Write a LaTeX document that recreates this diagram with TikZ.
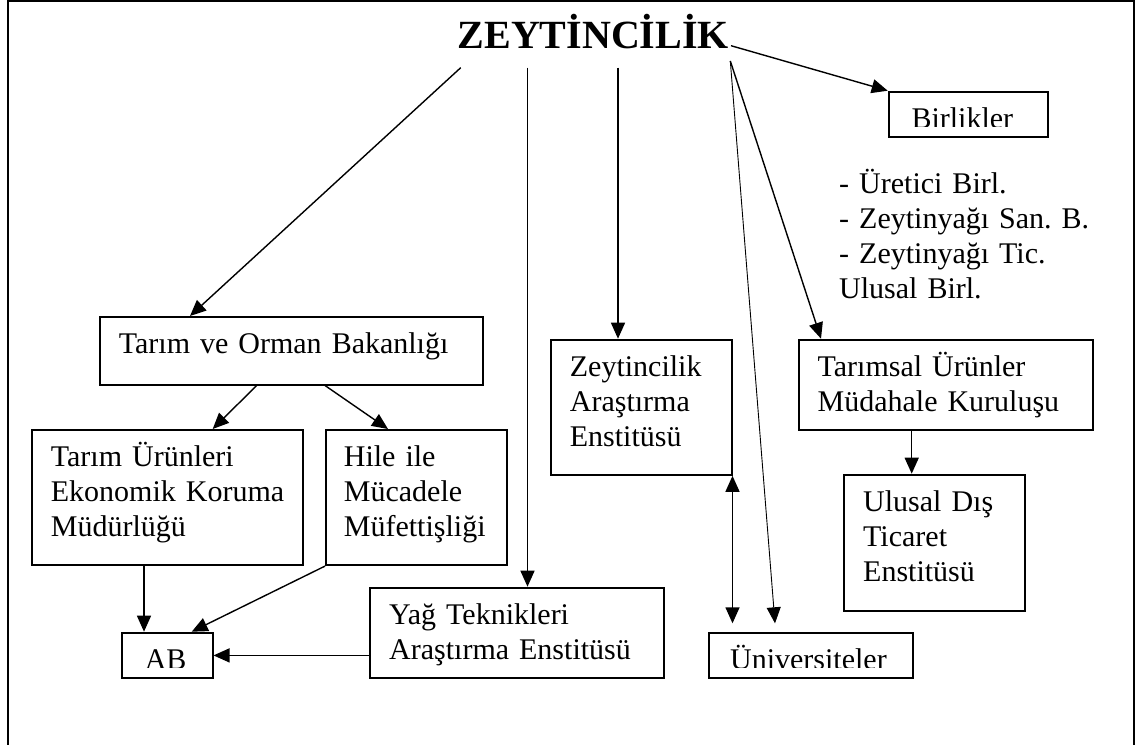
\documentclass[tikz,border=0pt]{standalone}
\usepackage{fontspec}
\setmainfont{Liberation Serif}
\usetikzlibrary{arrows.meta,calc}
\newcommand{\govde}{\fontsize{30}{35}\selectfont}
\hyphenpenalty=10000
\frenchspacing
\tikzset{
  kutu/.style={draw, line width=1.8pt, anchor=north west, inner sep=0pt,
    align=left, font=\govde, text height=37pt, execute at begin node={\leftskip=19pt\relax}},
  ok/.style={line width=1.4pt, -{Triangle[length=16pt,width=14pt]}},
  kirpik/.style 2 args={path picture={
    \clip ([yshift=10.5pt]path picture bounding box.south west) rectangle (path picture bounding box.north east);
    \node[anchor=base west, inner sep=0pt, minimum width=0pt, minimum height=0pt, font=\govde]
      at ([xshift=#1, yshift=-37pt]path picture bounding box.north west) {#2};}}
}

\begin{document}
\begin{tikzpicture}[x=1pt, y=-1pt]
    \useasboundingbox (0,0) rectangle (1139,744);
    \draw[line width=2pt] (8.3,745) -- (8.3,1) -- (1134,1) -- (1134,745);

    \node[anchor=base west, inner sep=0pt, font=\bfseries\fontsize{40}{46}\selectfont] (baslik) at (457.5,48.3) {ZEYTİNCİLİK};

    % kutular
    \node[kutu, text width=383.3pt, text depth=30.7pt] (tob) at (99,316) {Tarım ve Orman Bakanlığı};
    \node[kutu, text width=271pt, text depth=98.3pt] (tur) at (31,429) {Tarım Ürünleri\\Ekonomik Koruma\\Müdürlüğü};
    \node[kutu, text width=180.7pt, text depth=98.3pt, execute at begin node={\leftskip=18pt\relax}] (hile) at (325,429) {Hile ile\\Mücadele\\Müfettişliği};
    \node[kutu, minimum width=90.7pt, minimum height=45.6pt, kirpik={22pt}{AB}] (ab) at (121,631.7) {};
    \node[kutu, text width=294pt, text depth=53.6pt] (yag) at (369.3,586.7) {Yağ Teknikleri\\Araştırma Enstitüsü};
    \node[kutu, text width=180.7pt, text depth=98.3pt] (zae) at (550,338.7) {Zeytincilik\\Araştırma\\Enstitüsü};
    \node[kutu, minimum width=203.4pt, minimum height=45.6pt, kirpik={20pt}{Üniversiteler}] (uni) at (708.3,631.7) {};
    \node[kutu, text width=294.3pt, text depth=53.3pt] (tum) at (797.7,338.7) {Tarımsal Ürünler\\Müdahale Kuruluşu};
    \node[kutu, text width=181pt, text depth=99.3pt] (udt) at (843.3,473.7) {Ulusal Dış\\Ticaret\\Enstitüsü};
    \node[kutu, minimum width=159pt, minimum height=45.3pt, kirpik={22pt}{Birlikler}] (birlik) at (887.7,90.7) {};

    \node[anchor=north west, inner sep=0pt, align=left, font=\govde, text width=290pt, text height=20pt] (liste) at (839,173)
        {- Üretici Birl.\\- Zeytinyağı San. B.\\- Zeytinyağı Tic.\\Ulusal Birl.};

    % oklar
    \coordinate (c1) at (460.7,67.7);
    \coordinate (c2) at (527.5,67.7);
    \coordinate (c3) at (618,67.7);
    \coordinate (c4) at (730.3,61);
    \coordinate (c5) at (731,45.7);
    \draw[ok] (c1) -- ([xshift=91pt]tob.north west);
    \draw[ok] (c2) -- (c2 |- yag.north);
    \draw[ok] (c3) -- (c3 |- zae.north);
    \draw[ok] (c4) -- ([xshift=23.3pt]tum.north west);
    \draw[ok, line width=0.9pt] (c4) -- ([xshift=66.7pt, yshift=8.4pt]uni.north west);
    \draw[ok] (c5) -- (birlik.north west);
    \draw[ok] ([xshift=157.7pt]tob.south west) -- ([xshift=181.7pt]tur.north west);
    \draw[ok] ([xshift=226pt]tob.south west) -- ([xshift=63pt]hile.north west);
    \draw[ok] ([xshift=113pt]tur.south west) -- ([xshift=23pt]ab.north west);
    \draw[ok] (hile.south west) -- ([xshift=70.7pt]ab.north west);
    \draw[ok] (yag.west |- ab.east) -- (ab.east);
    \draw[ok] ([xshift=114pt]tum.south west) -- ([xshift=68.4pt]udt.north west);
    \draw[ok, {Triangle[length=16pt,width=14pt]}-{Triangle[length=16pt,width=14pt]}] (zae.south east) -- ($(zae.south east |- uni.north)+(0,-8.4)$);
\end{tikzpicture}
\end{document}
